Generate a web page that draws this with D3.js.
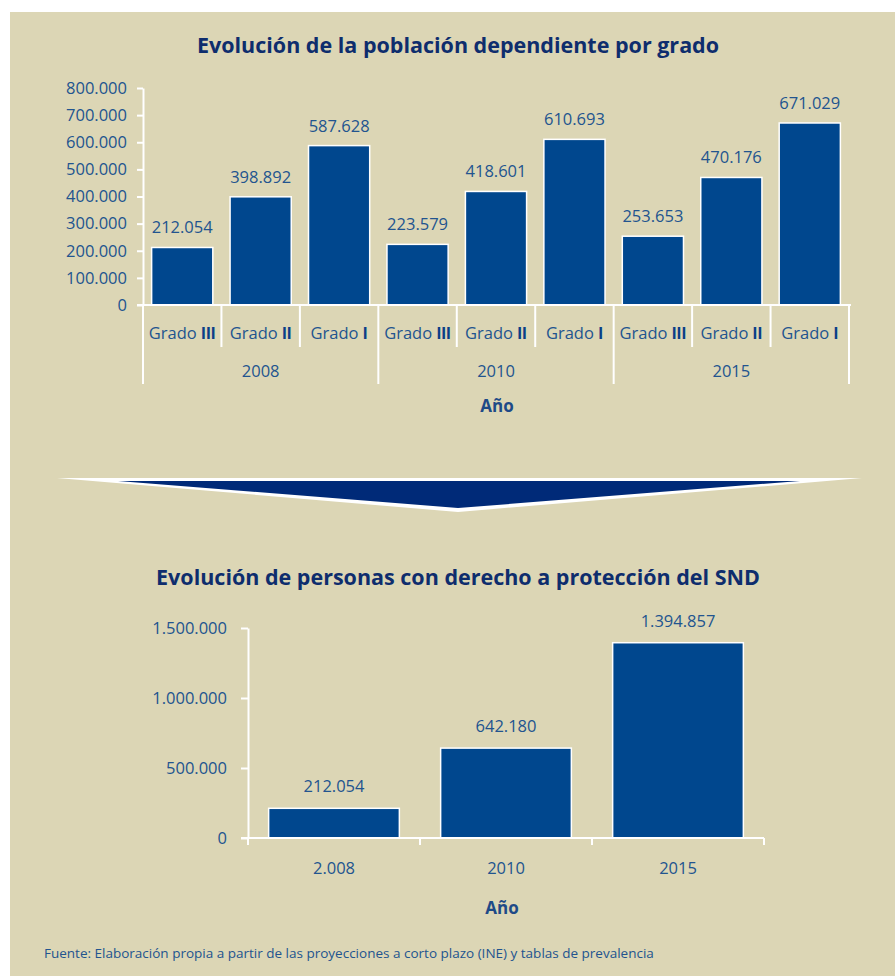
<!DOCTYPE html>
<html>
<head>
<meta charset="utf-8">
<script src="https://cdn.jsdelivr.net/npm/d3@7"></script>
<style>
  body { margin: 0; background: #fff; }
  svg { display: block; font-family: "Open Sans", sans-serif; }
</style>
</head>
<body>
<div id="chart"></div>
<script>
// Data
const years = ["2008", "2010", "2015"];
const grados = ["Grado III", "Grado II", "Grado I"];
const dependientes = [212054, 398892, 587628, 223579, 418601, 610693, 253653, 470176, 671029];
const sndYears = ["2.008", "2010", "2015"];
const sndValues = [212054, 642180, 1394857];
const ticksTop = [0, 100000, 200000, 300000, 400000, 500000, 600000, 700000, 800000];
const ticksBottom = [0, 500000, 1000000, 1500000];

const width = 895, height = 976;
const bg = "#dcd6b5", barColor = "#00478e", textColor = "#22548f", titleColor = "#0e2d6d";
const fs = 16.5;

const es = d3.formatLocale({ decimal: ",", thousands: ".", grouping: [3], currency: ["", "€"] });
const fmt = es.format(",d");

let svg = d3.select("#chart").append("svg")
    .attr("width", width)
    .attr("height", height)

svg.append("rect").attr("x", 10).attr("y", 12).attr("width", width - 10).attr("height", height - 12).attr("fill", bg)

// ------------ TOP CHART ------------ //
svg.append("text")
    .attr("x", 458).attr("y", 53)
    .attr("text-anchor", "middle")
    .attr("font-size", 21.5).attr("font-weight", "bold")
    .attr("fill", titleColor)
    .text("Evolución de la población dependiente por grado")

let cats = [];
years.forEach(y => grados.forEach(g => cats.push({ year: y, grado: g })));
cats.forEach((c, i) => c.value = dependientes[i]);

let x1 = d3.scaleBand(d3.range(cats.length), [143, 849]).paddingInner(0.22).paddingOuter(0.11)
let y1 = d3.scaleLinear([0, 800000], [305, 88])

let g1 = svg.append("g")

g1.append("g")
    .attr("transform", "translate(143,0)")
    .call(d3.axisLeft(y1).tickValues(ticksTop).tickFormat(fmt).tickSize(6).tickSizeOuter(0).tickPadding(10))
    .call(a => a.selectAll("path, line").attr("stroke", "#fff").attr("stroke-width", 2))
    .call(a => a.selectAll("text").attr("fill", textColor).attr("font-size", fs).attr("font-family", "Open Sans"))

g1.selectAll("rect.bar")
    .data(cats)
    .enter().append("rect")
    .attr("class", "bar")
    .attr("x", (d, i) => x1(i))
    .attr("width", x1.bandwidth())
    .attr("y", d => y1(d.value))
    .attr("height", d => y1(0) - y1(d.value))
    .attr("fill", barColor)
    .attr("stroke", "#fff").attr("stroke-width", 1.5)

g1.selectAll("text.val")
    .data(cats)
    .enter().append("text")
    .attr("x", (d, i) => x1(i) + x1.bandwidth() / 2)
    .attr("y", d => y1(d.value) - 14)
    .attr("text-anchor", "middle")
    .attr("font-size", fs).attr("fill", textColor)
    .text(d => fmt(d.value))

// hierarchical category axis
const step1 = x1.step();
const edge1 = i => x1(i) - step1 * 0.11;
g1.append("line").attr("x1", 137).attr("x2", 851).attr("y1", 305).attr("y2", 305).attr("stroke", "#fff").attr("stroke-width", 2)
g1.selectAll("line.sep")
    .data(d3.range(cats.length + 1))
    .enter().append("line")
    .attr("x1", i => i < cats.length ? edge1(i) : edge1(i - 1) + step1)
    .attr("x2", i => i < cats.length ? edge1(i) : edge1(i - 1) + step1)
    .attr("y1", 305)
    .attr("y2", i => i % 3 === 0 ? 384 : 347)
    .attr("stroke", "#fff").attr("stroke-width", 2)

let gl = g1.selectAll("text.grado")
    .data(cats)
    .enter().append("text")
    .attr("x", (d, i) => edge1(i) + step1 / 2)
    .attr("y", 339)
    .attr("text-anchor", "middle")
    .attr("font-size", fs).attr("fill", textColor)
gl.append("tspan").text("Grado ")
gl.append("tspan").attr("font-weight", "bold").attr("fill", "#0b3f87").attr("font-family", "Roboto").text(d => d.grado.split(" ")[1])

g1.selectAll("text.year")
    .data(years)
    .enter().append("text")
    .attr("x", (d, i) => edge1(i * 3) + step1 * 1.5)
    .attr("y", 377)
    .attr("text-anchor", "middle")
    .attr("font-size", fs).attr("fill", textColor)
    .text(d => d)

g1.append("text").attr("x", 497).attr("y", 412).attr("text-anchor", "middle")
    .attr("font-size", 17).attr("font-weight", "bold").attr("fill", "#1e4a87").text("Año")

// ------------ ARROW ------------ //
svg.append("path")
    .attr("d", "M57,478 L862,478 L458,512 Z")
    .attr("fill", "#fff")
svg.append("path")
    .attr("d", "M118,481 L800,481 L458,508 Z")
    .attr("fill", "#002a78")

// ------------ BOTTOM CHART ------------ //
svg.append("text")
    .attr("x", 458).attr("y", 585)
    .attr("text-anchor", "middle")
    .attr("font-size", 21.5).attr("font-weight", "bold")
    .attr("fill", titleColor)
    .text("Evolución de personas con derecho a protección del SND")

let x2 = d3.scaleBand(sndYears, [248, 764]).paddingInner(0.24).paddingOuter(0.12)
let y2 = d3.scaleLinear([0, 1500000], [838, 628])

let g2 = svg.append("g")

g2.append("g")
    .attr("transform", "translate(248,0)")
    .call(d3.axisLeft(y2).tickValues(ticksBottom).tickFormat(fmt).tickSize(7).tickSizeOuter(0).tickPadding(14))
    .call(a => a.selectAll("path, line").attr("stroke", "#fff").attr("stroke-width", 2))
    .call(a => a.selectAll("text").attr("fill", textColor).attr("font-size", fs).attr("font-family", "Open Sans"))

g2.selectAll("rect.bar")
    .data(sndValues)
    .enter().append("rect")
    .attr("x", (d, i) => x2(sndYears[i]))
    .attr("width", x2.bandwidth())
    .attr("y", d => y2(d))
    .attr("height", d => y2(0) - y2(d))
    .attr("fill", barColor)
    .attr("stroke", "#fff").attr("stroke-width", 1.5)

g2.selectAll("text.val")
    .data(sndValues)
    .enter().append("text")
    .attr("x", (d, i) => x2(sndYears[i]) + x2.bandwidth() / 2)
    .attr("y", d => y2(d) - 16)
    .attr("text-anchor", "middle")
    .attr("font-size", fs).attr("fill", textColor)
    .text(d => fmt(d))

const step2 = x2.step();
const edge2 = i => x2(sndYears[0]) - step2 * 0.12 + i * step2;
g2.append("line").attr("x1", 241).attr("x2", 764).attr("y1", 838).attr("y2", 838).attr("stroke", "#fff").attr("stroke-width", 2)
g2.selectAll("line.sep")
    .data(d3.range(sndYears.length + 1))
    .enter().append("line")
    .attr("x1", edge2).attr("x2", edge2)
    .attr("y1", 838).attr("y2", 845)
    .attr("stroke", "#fff").attr("stroke-width", 2)

g2.selectAll("text.year")
    .data(sndYears)
    .enter().append("text")
    .attr("x", d => x2(d) + x2.bandwidth() / 2)
    .attr("y", 874)
    .attr("text-anchor", "middle")
    .attr("font-size", fs).attr("fill", textColor)
    .text(d => d)

g2.append("text").attr("x", 502).attr("y", 914).attr("text-anchor", "middle")
    .attr("font-size", 17).attr("font-weight", "bold").attr("fill", "#1e4a87").text("Año")

// source
svg.append("text").attr("x", 44).attr("y", 958)
    .attr("font-size", 13.5).attr("fill", textColor)
    .text("Fuente: Elaboración propia a partir de las proyecciones a corto plazo (INE) y tablas de prevalencia")
</script>
</body>
</html>
